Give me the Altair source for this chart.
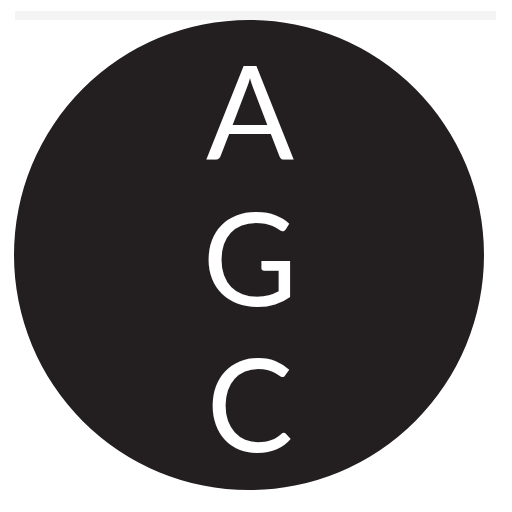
import pandas as pd
import altair as alt

# logo pieces, in page pixel coordinates
bar_x = [15]
bar_x2 = [496]
bar_y = [11]
bar_y2 = [20]

circle_x = [249]
circle_y = [255]
circle_diameter = [470]

letters = ["A", "G", "C"]
letter_x = [250, 250, 250]
letter_baseline = [160, 306, 452]

bar_df = pd.DataFrame({"x": bar_x, "x2": bar_x2, "y": bar_y, "y2": bar_y2})
circle_df = pd.DataFrame({"x": circle_x, "y": circle_y,
                          "size": [d * d for d in circle_diameter]})
text_df = pd.DataFrame({"letter": letters, "x": letter_x, "y": letter_baseline})

xs = alt.Scale(domain=[8, 504], nice=False, zero=False)
ys = alt.Scale(domain=[8, 504], nice=False, zero=False, reverse=True)

bar = (
    alt.Chart(bar_df)
    .mark_rect(color="#f4f4f4")
    .encode(
        x=alt.X("x:Q", scale=xs, axis=None),
        x2="x2:Q",
        y=alt.Y("y:Q", scale=ys, axis=None),
        y2="y2:Q",
    )
)

circle = (
    alt.Chart(circle_df)
    .mark_point(shape="circle", filled=True, color="#231f20", opacity=1)
    .encode(
        x=alt.X("x:Q", scale=xs, axis=None),
        y=alt.Y("y:Q", scale=ys, axis=None),
        size=alt.Size("size:Q", scale=None, legend=None),
    )
)

text = (
    alt.Chart(text_df)
    .mark_text(font="Lato", fontSize=130, fontWeight=400, color="white",
               align="center", baseline="alphabetic")
    .encode(
        x=alt.X("x:Q", scale=xs, axis=None),
        y=alt.Y("y:Q", scale=ys, axis=None),
        text="letter:N",
    )
)

chart = (
    alt.layer(bar, circle, text)
    .properties(width=496, height=496, padding=0,
                autosize=alt.AutoSizeParams(type="none"))
    .configure_view(strokeWidth=0)
)

chart.save("out.html", embed_options={"renderer": "svg", "actions": False})
